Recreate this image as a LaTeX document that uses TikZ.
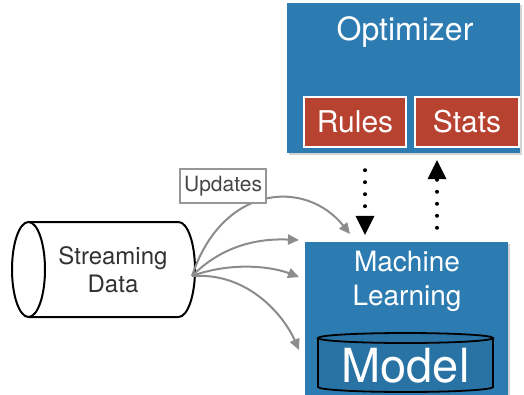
\documentclass[tikz,border=0pt]{standalone}
\usepackage{fontspec}
\setmainfont{TeX Gyre Heros}
\usetikzlibrary{arrows.meta,shadows}
\definecolor{boxblue}{RGB}{44,124,178}
\definecolor{boxred}{RGB}{184,66,48}
\definecolor{arrgray}{RGB}{140,140,140}
\begin{document}
\begin{tikzpicture}[x=1pt,y=-1pt,
  bluebox/.style={rectangle,fill=boxblue,draw=none,inner sep=0pt,
    drop shadow={opacity=0.35,shadow xshift=1.5pt,shadow yshift=-1.5pt}},
  redbox/.style={rectangle,fill=boxred,draw=white,line width=2pt,inner sep=0pt,
    minimum height=50pt,text=white,font=\fontsize{30}{32}\selectfont},
  wtext/.style={text=white,inner sep=0pt,align=center},
  feed/.style={draw=arrgray,line width=2pt,-{Triangle[length=11pt,width=10pt]}},
  dotarrow/.style={draw=black,line width=4pt,dash pattern=on 0pt off 12pt,line cap=round,
    -{Triangle[length=19pt,width=19pt,line width=0pt]}}
]
\useasboundingbox (0,0) rectangle (524,394);
\fill[white] (0,0) rectangle (524,394);

% Optimizer
\node[bluebox,minimum width=233pt,minimum height=150pt] (opt) at (403.5,78) {};
\node[wtext,font=\fontsize{32}{34}\selectfont] (opttxt) at (405,32) {Optimizer};
\node[redbox,minimum width=102pt] (rules) at (355,122) {Rules};
\node[redbox,minimum width=104pt] (stats) at (467,122) {Stats};

% Machine Learning
\node[bluebox,minimum width=203pt,minimum height=156pt] (ml) at (406.5,320) {};
\node[wtext,font=\fontsize{28}{34}\selectfont] (mltxt) at (407,281) {Machine\\Learning};

% Model cylinder
\fill[boxblue!92!black] (318,338) -- (318,387) arc[start angle=180,end angle=360,x radius=87.5,y radius=-5] -- (493,338) -- cycle;
\draw[black,line width=1.8pt] (318,338) -- (318,387) arc[start angle=180,end angle=360,x radius=87.5,y radius=-5] -- (493,338);
\draw[black,line width=1.8pt,fill=boxblue!92!black] (405.5,338) ellipse[x radius=87.5,y radius=5];
\node[wtext,font=\fontsize{47}{50}\selectfont] (model) at (405.5,366) {Model};

% Streaming data cylinder
\draw[black,line width=2pt,fill=white] (28.5,222) -- (178.5,222) arc[start angle=90,end angle=-90,x radius=16.5,y radius=-47.5] -- (28.5,317);
\draw[black,line width=2pt,fill=white] (28.5,269.5) ellipse[x radius=16.5,y radius=47.5];
\node[inner sep=0pt,align=center,text={rgb,255:red,50;green,50;blue,50},font=\fontsize{24}{28}\selectfont] (sd) at (113,270) {Streaming\\Data};
\coordinate (src) at (192,276);

% Feed arrows
\coordinate (t1) at (350,234);
\coordinate (t2) at (299,240);
\coordinate (t3) at (299,277);
\coordinate (t4) at (299,350);
\draw[feed] (src) .. controls (222,185) and (305,178) .. (t1);
\draw[feed] (src) .. controls (218,250) and (250,238) .. (t2);
\draw[feed] (src) .. controls (230,262) and (270,266) .. (t3);
\draw[feed] (src) .. controls (250,272) and (285,318) .. (t4);

% Updates label
\node[draw={rgb,255:red,150;green,150;blue,150},line width=2.5pt,fill=white,inner xsep=4pt,inner ysep=7pt,
  text={rgb,255:red,70;green,70;blue,70},font=\fontsize{21}{23}\selectfont] (upd) at (223,186) {Updates};

% Dotted arrows
\coordinate (d1a) at ([xshift=-38.5pt,yshift=-17pt]opt.south);
\coordinate (d1b) at ([xshift=-41.5pt,yshift=7pt]ml.north);
\coordinate (d2a) at ([xshift=30.5pt,yshift=14pt]ml.north);
\coordinate (d2b) at ([xshift=33.5pt,yshift=-7pt]opt.south);
\draw[dotarrow] (d1a) -- (d1b);
\draw[dotarrow] (d2a) -- (d2b);
\end{tikzpicture}
\end{document}
